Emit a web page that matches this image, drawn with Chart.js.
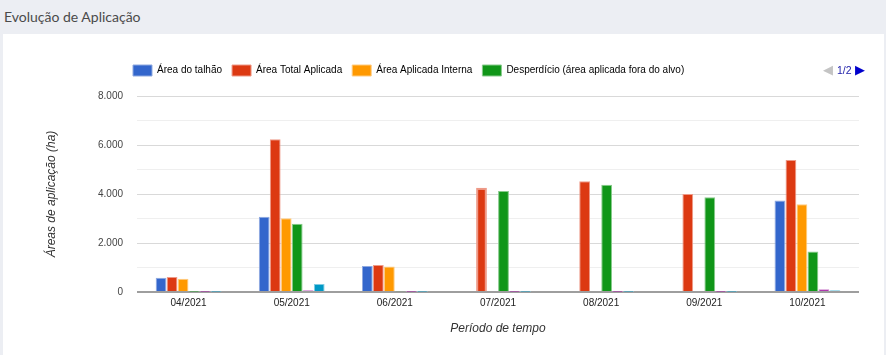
<!DOCTYPE html>
<html>
<head>
<meta charset="utf-8">
<script src="https://cdn.jsdelivr.net/npm/chart.js@4/dist/chart.umd.min.js"></script>
<style>
  html, body { margin:0; padding:0; }
  body { width:886px; height:355px; background:#eceef3; position:relative; overflow:hidden; }
  #title { position:absolute; left:4px; top:8px; font-family:Lato, "Open Sans", sans-serif; font-size:14px; color:#4a4a4a; }
  #card { position:absolute; left:3px; top:34px; width:881px; height:321px; background:#fff; }
  #cv { position:absolute; left:0; top:0; }
  #pager { position:absolute; left:823px; top:63px; font-family:"Liberation Sans", Arial, sans-serif; font-size:10px; line-height:14px; white-space:nowrap; }
  #pager .l { color:#c4c4c4; font-size:13px; }
  #pager .n { color:#2222aa; margin:0 3px 0 4px; font-size:10.5px; }
  #pager .r { color:#0000cc; font-size:13px; }
</style>
</head>
<body>
<div id="title">Evolução de Aplicação</div>
<div id="card"></div>
<canvas id="cv" width="886" height="355"></canvas>
<div id="pager"><span class="l">◀</span><span class="n">1/2</span><span class="r">▶</span></div>
<script>
const categories = ["04/2021","05/2021","06/2021","07/2021","08/2021","09/2021","10/2021"];
const seriesNames = ["Área do talhão","Área Total Aplicada","Área Aplicada Interna","Desperdício (área aplicada fora do alvo)","Sobreposição","Falha de aplicação"];
const areaTalhao      = [585, 3070, 1060, 0, 0, 0, 3730];
const areaTotal       = [610, 6230, 1100, 4260, 4520, 4000, 5390];
const areaInterna     = [545, 3010, 1040, 0, 0, 0, 3580];
const desperdicio     = [10, 2790, 30, 4120, 4380, 3870, 1650];
const sobreposicao    = [10, 70, 10, 10, 10, 10, 110];
const falha           = [10, 330, 10, 10, 10, 10, 70];
const yTicks = [0, 2000, 4000, 6000, 8000];

const colors = ["#3366cc","#dc3912","#ff9900","#109618","#990099","#0099c6"];
const borders = ["#8fa9e0","#ee9a88","#ffcc80","#88cb8c","#cc80cc","#80cce3"];
const values = [areaTalhao, areaTotal, areaInterna, desperdicio, sobreposicao, falha];

const datasets = values.map((v,i)=>({
  label: seriesNames[i],
  data: v,
  backgroundColor: colors[i],
  borderColor: borders[i],
  borderWidth: i===1 ? categories.map((c,k)=> k===3 ? 2 : 1) : 1,
  categoryPercentage: 0.64,
  barPercentage: 0.98
}));

const fmt = v => v===0 ? "0" : String(v).replace(/\B(?=(\d{3})+(?!\d))/g, ".");

const legendShift = {
  id:'legendShift',
  afterLayout(chart){
    const lg = chart.legend;
    const w = lg.right - lg.left;
    lg.left = 123; lg.right = 123 + w;
    lg.top = 55;
  }
};

new Chart(document.getElementById('cv'), {
  type:'bar',
  data:{ labels: categories, datasets },
  plugins:[legendShift],
  options:{
    responsive:false,
    animation:false,
    events:[],
    layout:{ padding:{ left:40, right:27, top:65, bottom:14 } },
    plugins:{
      tooltip:{ enabled:false },
      legend:{
        position:'top', align:'start',
        labels:{
          boxWidth:19, boxHeight:11, padding:10,
          color:'#222',
          font:{ family:'"Liberation Sans", Arial, sans-serif', size:10 },
          filter: item => item.datasetIndex < 4,
          generateLabels(chart){
            return chart.data.datasets.map((d,i)=>({
              text:d.label, fillStyle:d.backgroundColor, strokeStyle:d.borderColor,
              lineWidth:1, datasetIndex:i, hidden:false
            }));
          }
        }
      }
    },
    scales:{
      x:{
        grid:{ display:false, drawTicks:false },
        border:{ display:false },
        ticks:{ color:'#222', font:{ family:'"Liberation Sans", Arial, sans-serif', size:10 }, padding:5, maxRotation:0 },
        title:{ display:true, text:'Período de tempo', color:'#333', padding:{top:4,bottom:5},
          font:{ family:'"Liberation Sans", Arial, sans-serif', size:12, style:'italic' } },
        afterFit(s){ s.height = 49; }
      },
      y:{
        min:0, max:8000,
        border:{ display:false },
        grid:{
          drawTicks:false,
          color: ctx => ctx.tick.value===0 ? '#9e9e9e' : (ctx.tick.value % 2000 === 0 ? '#d9d9d9' : '#efefef'),
          lineWidth: ctx => ctx.tick.value===0 ? 2 : 1
        },
        ticks:{
          stepSize:1000, padding:14, color:'#444',
          font:{ family:'"Liberation Sans", Arial, sans-serif', size:10 },
          callback: v => yTicks.includes(v) ? fmt(v) : ''
        },
        title:{ display:true, text:'Áreas de aplicação (ha)', color:'#333', padding:{top:4,bottom:4},
          font:{ family:'"Liberation Sans", Arial, sans-serif', size:12, style:'italic' } },
        afterFit(s){ s.width = 97; }
      }
    }
  }
});
</script>
</body>
</html>
